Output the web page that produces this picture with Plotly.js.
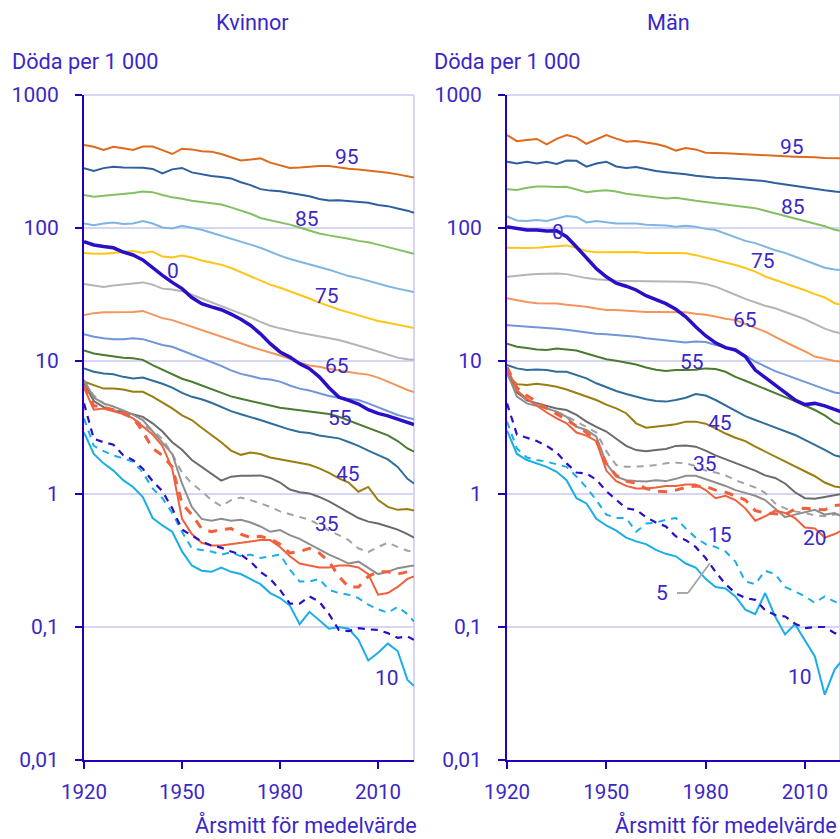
<!DOCTYPE html>
<html lang="sv">
<head>
<meta charset="utf-8">
<script src="https://cdn.plot.ly/plotly-3.0.1.min.js"></script>
<style>
html,body{margin:0;padding:0;background:#fff;}
#chart{width:840px;height:839px;}
</style>
</head>
<body>
<div id="chart"></div>
<script>
// ---------- DATA (deaths per 1 000) ----------
const years = [1920,1923,1926,1929,1932,1935,1938,1941,1944,1947,1950,1953,1956,1959,1962,1965,1968,1971,1974,1977,1980,1983,1986,1989,1992,1995,1998,2001,2004,2007,2010,2013,2016,2019,2021];
const ages = [0,5,10,15,20,25,30,35,40,45,50,55,60,65,70,75,80,85,90,95];
const xTicks = [1920,1950,1980,2010];
const yTicks = [0.01,0.1,1,10,100,1000];
const yTickText = ['0,01','0,1','1','10','100','1000'];

// Kvinnor
const w00 = [79,74.5,72.5,71,66,62.7,57.5,50,44,39,35,30,27,25.5,24.3,22.5,20.6,18.5,16,13.5,11.7,10.7,9.55,8.75,7.6,6.3,5.35,5.05,4.75,4.3,4.04,3.87,3.67,3.45,3.33];
const w05 = [4.8,2.6,2.45,2.35,1.96,1.8,1.55,1.25,1.05,0.78,0.54,0.49,0.44,0.41,0.395,0.37,0.35,0.31,0.26,0.23,0.19,0.15,0.15,0.17,0.155,0.125,0.095,0.093,0.098,0.096,0.095,0.09,0.083,0.085,0.08];
const w10 = [2.9,2.0,1.7,1.5,1.27,1.13,0.95,0.66,0.58,0.52,0.37,0.29,0.265,0.26,0.28,0.26,0.25,0.23,0.21,0.18,0.165,0.145,0.105,0.13,0.112,0.097,0.1,0.097,0.08,0.056,0.064,0.075,0.066,0.04,0.036];
const w15 = [3.7,2.3,2.1,1.95,1.85,1.75,1.45,1.1,0.93,0.72,0.52,0.39,0.38,0.37,0.35,0.365,0.34,0.35,0.33,0.34,0.35,0.27,0.22,0.22,0.23,0.19,0.18,0.175,0.165,0.147,0.136,0.128,0.142,0.125,0.11];
const w20 = [6.3,4.3,4.4,4.2,4.0,3.7,3.2,2.8,2.3,1.55,0.65,0.5,0.43,0.41,0.41,0.42,0.43,0.44,0.45,0.45,0.4,0.34,0.3,0.29,0.28,0.28,0.29,0.29,0.28,0.25,0.175,0.18,0.2,0.23,0.24];
const w25 = [6.5,4.6,4.5,4.3,4.1,3.75,2.95,2.2,1.95,1.6,0.85,0.7,0.55,0.52,0.54,0.55,0.5,0.47,0.48,0.46,0.42,0.36,0.37,0.39,0.36,0.31,0.24,0.2,0.2,0.24,0.26,0.26,0.25,0.26,0.26];
const w30 = [7.2,5.3,4.8,4.55,4.25,3.95,3.6,2.95,2.45,2.0,1.2,0.8,0.65,0.63,0.65,0.63,0.64,0.61,0.57,0.52,0.535,0.49,0.46,0.42,0.38,0.35,0.325,0.3,0.31,0.28,0.25,0.26,0.277,0.285,0.29];
const w35 = [7.0,5.5,4.8,4.3,3.95,3.7,3.3,3.0,2.6,2.0,1.45,1.2,1.05,0.9,0.81,0.9,0.94,0.9,0.85,0.8,0.74,0.705,0.67,0.64,0.585,0.53,0.49,0.45,0.39,0.365,0.4,0.43,0.4,0.375,0.37];
const w40 = [6.8,5.0,4.5,4.25,4.15,3.95,3.8,3.4,2.95,2.45,2.15,1.8,1.6,1.42,1.26,1.35,1.37,1.37,1.38,1.32,1.22,1.08,1.03,1.01,0.95,0.88,0.8,0.72,0.66,0.62,0.6,0.57,0.54,0.5,0.47];
const w45 = [7.0,6.6,6.2,6.2,6.1,5.87,5.87,5.4,4.9,4.4,3.9,3.6,3.15,2.8,2.45,2.12,1.97,2.05,2.0,1.88,1.82,1.77,1.7,1.66,1.56,1.44,1.31,1.22,1.04,1.13,0.9,0.8,0.76,0.77,0.75];
const w50 = [8.8,8.3,8.05,7.95,7.6,7.4,7.5,7.1,6.75,6.3,5.75,5.38,5.15,4.85,4.5,4.2,3.98,3.8,3.6,3.4,3.2,3.05,2.93,2.87,2.75,2.67,2.62,2.46,2.3,2.12,1.96,1.82,1.6,1.3,1.2];
const w55 = [12,11.4,11.1,10.8,10.6,10.5,10.2,9.3,8.6,7.9,7.35,6.98,6.55,6.1,5.75,5.42,5.2,5.0,4.78,4.58,4.45,4.36,4.27,4.18,4.1,4.0,3.81,3.58,3.35,3.13,2.94,2.76,2.5,2.2,2.08];
const w60 = [15.9,15.2,14.8,14.6,14.6,14.8,14.6,13.8,13.2,12.8,12.0,11.1,10.5,9.8,9.2,8.5,8.0,7.7,7.4,7.25,7.0,6.55,6.2,6.0,5.75,5.45,5.3,5.18,5.09,4.8,4.5,4.2,3.93,3.75,3.65];
const w65 = [22.2,22.9,23.3,23.3,23.4,23.4,23.8,22.5,21,20.3,19.2,18.1,17,16.2,15.2,14.5,13.6,12.8,12.2,11.6,11.0,10.4,9.7,9.25,9.05,8.7,8.45,8.25,8.05,7.9,7.5,7.0,6.5,6.05,5.85];
const w70 = [38,37,36,37,37.5,38,39,37.5,35,34.5,33.5,31.5,29.5,27.5,25.8,24.2,22.9,21.3,19.7,18.4,17.6,16.9,16.3,15.8,15.3,14.9,14.4,13.7,13.1,12.4,11.8,11.2,10.6,10.3,10.2];
const w75 = [65,64,64,65,65.5,67,65,66.5,61,60,62,60,57,55,53,50,46.5,43,40,37.5,35.5,33.5,31.5,29.5,27.5,25.8,24.4,23.2,22,21,20,19.4,18.7,18,17.7];
const w80 = [108,105,108,110,107,108,113,108,101,99,104,101,97,92,87.5,84,79,75,71,66,62,58.5,56,53,51,48.5,46,43.5,42,40,38,36.5,35,34,33];
const w85 = [177,172,175,177,180,183,188,186,177,170,166,160,157,153,150,143,136,128,119,115,111,106,101,96,91,88,86,83,80,78,75,72,68.4,66,64];
const w90 = [281,268,282,289,285,284,284,278,257,276,283,262,253,246,242,236,221,210,196,191,189,183,177,173,165,161,162,159,157,155,149,146,140,135,130];
const w95 = [421,408,386,408,397,386,410,410,385,360,395,390,377,375,360,342,322,327,334,310,297,283,285,289,292,292,284,279,275,271,265,260,253,246,240];

// Män
const m00 = [102,99,96.6,96.6,95,95.5,86,72,59.5,49.5,43,38.5,36.5,34.2,31,28.7,27,24.5,21.5,18.1,15.5,13.7,12.6,12.1,10.8,8.55,7.5,6.6,5.8,5.09,4.7,4.8,4.6,4.3,4.15];
const m05 = [4.8,2.8,2.65,2.5,2.3,2.05,1.7,1.45,1.43,1.28,1.05,0.9,0.78,0.76,0.67,0.61,0.57,0.48,0.45,0.4,0.33,0.26,0.21,0.18,0.165,0.16,0.134,0.123,0.12,0.106,0.098,0.1,0.1,0.09,0.088];
const m10 = [3.0,2.0,1.8,1.7,1.6,1.47,1.27,0.93,0.85,0.65,0.58,0.53,0.47,0.44,0.42,0.38,0.355,0.34,0.3,0.28,0.23,0.2,0.195,0.17,0.135,0.125,0.18,0.12,0.088,0.105,0.08,0.06,0.031,0.048,0.055];
const m15 = [3.5,2.2,1.88,1.8,1.75,1.68,1.6,1.35,1.12,0.9,0.7,0.66,0.66,0.52,0.6,0.61,0.64,0.66,0.55,0.47,0.42,0.4,0.37,0.31,0.22,0.21,0.265,0.25,0.2,0.185,0.17,0.152,0.17,0.155,0.15];
const m20 = [9.0,6.0,5.2,4.6,4.1,3.7,3.4,2.9,2.75,2.5,1.5,1.25,1.15,1.1,1.1,1.12,1.15,1.15,1.18,1.18,1.07,0.93,0.97,0.9,0.78,0.63,0.68,0.75,0.72,0.66,0.56,0.55,0.47,0.5,0.53];
const m25 = [9.0,6.3,5.5,4.9,4.4,4.0,3.6,3.2,2.9,2.5,1.7,1.38,1.25,1.2,1.1,1.05,1.04,1.07,1.12,1.15,1.14,1.07,1.03,0.97,0.9,0.75,0.72,0.71,0.7,0.77,0.78,0.77,0.76,0.82,0.83];
const m30 = [8.2,5.4,4.8,4.6,4.4,4.16,3.8,3.2,3.03,2.7,1.7,1.35,1.27,1.25,1.24,1.27,1.25,1.3,1.37,1.37,1.3,1.22,1.15,1.07,1.02,0.97,0.9,0.77,0.67,0.7,0.73,0.76,0.7,0.72,0.68];
const m35 = [8.0,5.9,5.1,4.7,4.4,4.15,3.85,3.5,3.2,2.9,2.1,1.65,1.6,1.6,1.62,1.65,1.7,1.72,1.7,1.62,1.5,1.45,1.38,1.27,1.2,1.12,1.02,0.85,0.78,0.74,0.72,0.69,0.68,0.7,0.7];
const m40 = [8.3,5.8,5.05,4.8,4.6,4.4,4.28,3.93,3.5,3.2,2.95,2.6,2.3,2.14,2.1,2.14,2.18,2.3,2.32,2.27,2.12,1.95,1.82,1.7,1.6,1.5,1.38,1.32,1.2,1.03,0.93,0.92,0.95,0.98,1.0];
const m45 = [7.85,6.7,6.6,6.75,6.6,6.4,6.1,5.75,5.38,5.09,4.7,4.4,4.05,3.4,3.15,3.2,3.28,3.35,3.5,3.5,3.38,3.12,2.85,2.65,2.5,2.27,2.08,1.92,1.77,1.6,1.48,1.36,1.22,1.14,1.12];
const m50 = [9.33,8.8,8.55,8.65,8.55,8.3,8.3,7.85,7.4,6.8,6.35,5.95,5.65,5.38,5.15,5.0,4.95,5.09,5.3,5.65,5.5,5.09,4.65,4.2,3.85,3.6,3.38,3.15,2.95,2.78,2.55,2.35,2.15,1.95,1.9];
const m55 = [13.5,12.8,12.5,12.2,12.1,12.4,12.2,12.0,11.4,10.8,10.3,10.05,9.75,9.4,8.95,8.6,8.4,8.55,8.55,8.6,8.8,8.7,8.3,7.6,7.1,6.6,6.2,5.7,5.35,5.0,4.65,4.28,3.9,3.45,3.3];
const m60 = [18.6,18.4,18.2,18.1,17.8,17.5,17.2,16.8,16.2,16.0,15.9,15.7,15.5,15.2,14.8,14.5,14.2,14.0,13.8,14.0,13.9,13.2,12.7,12.0,11.0,9.9,9.1,8.4,7.9,7.4,6.95,6.5,6.15,5.8,5.7];
const m65 = [29.6,28.5,27.8,27.2,27.2,27.1,26.5,26.1,25.6,24.8,24.2,24.2,23.9,23.4,23.4,23.4,23.4,23.4,23.3,22.7,22.3,21.6,20.8,20.3,19,17.8,16.6,15.2,13.9,12.8,11.8,10.8,10.4,10.0,9.9];
const m70 = [43,44,44.5,45,45.2,45.5,45,43.5,42,41.2,40.5,40.1,40,40,40,40,40,39.8,39.5,39,38,36.2,34,31.5,29.3,27.5,26,24.9,23.5,22,20.6,19,17.5,16.5,16.2];
const m75 = [71,70.5,70.7,71,72,72.8,74,71,67,65.7,65.6,66,66,66,65,64.6,65,64.8,64.5,62.5,60,57.5,55.3,52.7,50,47,43.2,40.7,38.7,36.2,34,31.8,30,27.2,26.5];
const m80 = [122,114,113,115,113,118,123,121,110,113,110,108,108,108,106,105,104.5,102,104,102,98.5,96.6,91,85,80,77,72,68,65,61,57,53.5,50.2,48.8,48.3];
const m85 = [196,193,201,205,205,203,204,196,186,190,192,188,181,177,173,170,167,169,164,160,157,153,150,147,144,141,135,129,123,118,113,108,103,97,95];
const m90 = [315,306,315,306,315,303,322,320,289,305,315,290,283,287,278,268,263,260,254,247,242,239,238,235,232,230,225,218,212,208,201,196,192,188,186];
const m95 = [500,450,459,467,425,468,500,478,430,465,500,470,445,450,440,428,410,382,400,390,368,364,364,362,358,356,352,350,346,344,344,340,336,334,334];

const women = [w00,w05,w10,w15,w20,w25,w30,w35,w40,w45,w50,w55,w60,w65,w70,w75,w80,w85,w90,w95];
const men   = [m00,m05,m10,m15,m20,m25,m30,m35,m40,m45,m50,m55,m60,m65,m70,m75,m80,m85,m90,m95];

// label texts on the lines
const womenLabelAges = ['95','85','0','75','65','55','45','35','10'];
const menLabelAges   = ['95','85','0','75','65','55','45','35','15','20','5','10'];

// ---------- STYLE ----------
const TEXT = '#3b27c6', AXIS = '#2200bb', GRID = '#d6d6f2';
const FONT = 'Roboto, "Open Sans", Arial, sans-serif';
const styles = {
  0:{c:'#2a0fc8',w:3.5,d:'solid'},
  5:{c:'#2a0fc8',w:2.2,d:'7px,6px'},
  10:{c:'#1aaee8',w:2,d:'solid'},
  15:{c:'#1aaee8',w:2,d:'7px,6px'},
  20:{c:'#f0603c',w:2,d:'solid'},
  25:{c:'#f0603c',w:3,d:'9px,8px'},
  30:{c:'#8e8e8e',w:2,d:'solid'},
  35:{c:'#a2a2a2',w:2,d:'7px,6px'},
  40:{c:'#6b6b6b',w:2,d:'solid'},
  45:{c:'#9b7d0f',w:2,d:'solid'},
  50:{c:'#2f6e9c',w:2,d:'solid'},
  55:{c:'#4b7b2f',w:2,d:'solid'},
  60:{c:'#6f95da',w:2,d:'solid'},
  65:{c:'#f4955c',w:2,d:'solid'},
  70:{c:'#b5b5b5',w:2,d:'solid'},
  75:{c:'#ffc519',w:2,d:'solid'},
  80:{c:'#7db6e3',w:2,d:'solid'},
  85:{c:'#84c062',w:2,d:'solid'},
  90:{c:'#2f5f9f',w:2,d:'solid'},
  95:{c:'#de6a1c',w:2,d:'solid'}
};
const drawOrder = [95,90,85,80,75,70,65,60,55,50,45,40,35,30,25,20,15,10,5,0];

const traces = [];
function addPanel(data, xa, ya) {
  drawOrder.forEach(age => {
    const s = styles[age];
    traces.push({
      type:'scatter', mode:'lines', x: years, y: data[ages.indexOf(age)],
      xaxis: xa, yaxis: ya, name: String(age), hoverinfo:'skip',
      line:{color:s.c, width:s.w, dash:s.d}
    });
  });
}
addPanel(women, 'x', 'y');
addPanel(men, 'x2', 'y2');

// label positions (year, value) – layout only
const womenLabelPos = [[2000.4,342],[1988.2,116],[1947.2,47.5],[1994.3,30.8],[1997.4,9.17],[1998.3,3.73],[2000.7,1.41],[1994.3,0.595],[2012.6,0.0414]];
const menLabelPos = [[2006.1,406],[2006.4,144],[1935.4,93.3],[1997.3,56.5],[1991.9,20.3],[1975.9,9.8],[1984.4,3.42],[1979.8,1.68],[1984.4,0.492],[2013,0.467],[1966.8,0.18],[2008.5,0.042]];

const annotations = [];
function lab(text, xr, yr, x, v) {
  annotations.push({text, xref:xr, yref:yr, x, y:Math.log10(v), showarrow:false,
    xanchor:'center', yanchor:'middle', font:{family:FONT,size:21,color:TEXT}});
}
womenLabelAges.forEach((t,i)=>lab(t,'x','y',womenLabelPos[i][0],womenLabelPos[i][1]));
menLabelAges.forEach((t,i)=>lab(t,'x2','y2',menLabelPos[i][0],menLabelPos[i][1]));

function ptext(text, x, y, anchor) {
  annotations.push({text, xref:'paper', yref:'paper', x:x/840, y:1-y/839, showarrow:false,
    xanchor:anchor, yanchor:'middle', font:{family:FONT,size:21.7,color:TEXT}});
}
ptext('Kvinnor', 252, 23, 'center');
ptext('Män', 668, 23, 'center');
ptext('Döda per 1 000', 10, 62, 'left');
ptext('Döda per 1 000', 432, 62, 'left');
ptext('Årsmitt för medelvärde', 419, 825, 'right');
ptext('Årsmitt för medelvärde', 839, 825, 'right');

function xax(domain, range, anchor) {
  return {domain, range, anchor, type:'linear', tickmode:'array', tickvals:xTicks,
    ticktext:xTicks.map(String), ticks:'outside', ticklen:7, tickwidth:2, tickcolor:AXIS,
    showline:true, linecolor:AXIS, linewidth:2, showgrid:false, zeroline:false,
    tickfont:{family:FONT,size:20.5,color:TEXT}, ticklabelstandoff:5, fixedrange:true};
}
function yax(anchor) {
  return {domain:[79/839, 744/839], type:'log', range:[-2,3], anchor, tickmode:'array',
    tickvals:yTicks, ticktext:yTickText, ticks:'outside', ticklen:7, tickwidth:2, tickcolor:AXIS,
    showline:true, linecolor:AXIS, linewidth:2, showgrid:true, gridcolor:GRID, gridwidth:2,
    zeroline:false, tickfont:{family:FONT,size:21,color:TEXT}, ticklabelstandoff:12, fixedrange:true};
}

const border = (xr, yr) => ([
  {type:'line', xref:xr+' domain', yref:yr+' domain', x0:0, x1:1, y0:1, y1:1, line:{color:GRID,width:2}, layer:'below'},
  {type:'line', xref:xr+' domain', yref:yr+' domain', x0:1, x1:1, y0:0, y1:1, line:{color:GRID,width:2}, layer:'below'}
]);
// leader line for label "5" (Män), in panel-domain fractions
const leader = [
  {type:'line', xref:'x2 domain', yref:'y2 domain', x0:0.5105, y0:0.2511, x1:0.5435, y1:0.2511, line:{color:'#a8a8a8',width:2}},
  {type:'line', xref:'x2 domain', yref:'y2 domain', x0:0.5435, y0:0.2511, x1:0.6096, y1:0.2962, line:{color:'#a8a8a8',width:2}}
];

const layout = {
  width:840, height:839, margin:{l:0,r:0,t:0,b:0}, paper_bgcolor:'#fff', plot_bgcolor:'#fff',
  showlegend:false, font:{family:FONT,color:TEXT},
  xaxis: xax([84/840, 414/840], [1920, 2021], 'y'),
  yaxis: yax('x'),
  xaxis2: xax([507/840, 1], [1920, 2020.6], 'y2'),
  yaxis2: yax('x2'),
  shapes: border('x','y').concat(border('x2','y2')).concat(leader),
  annotations
};

Plotly.newPlot('chart', traces, layout, {staticPlot:true, displayModeBar:false});
</script>
</body>
</html>
